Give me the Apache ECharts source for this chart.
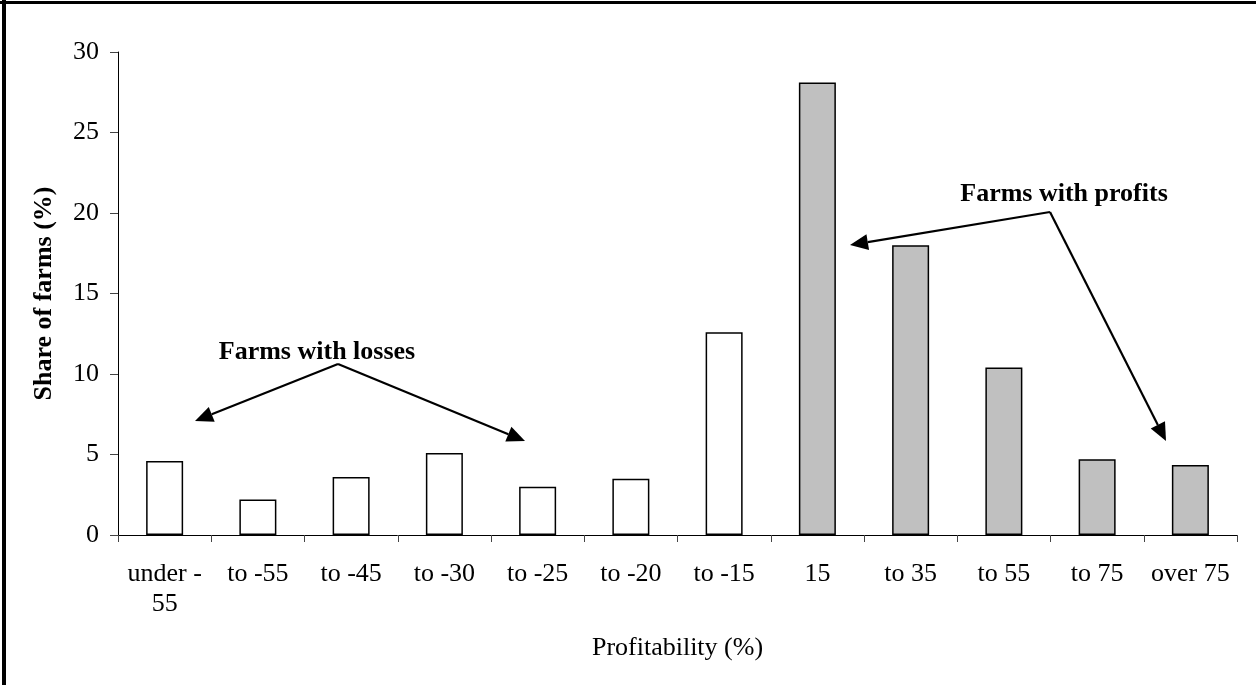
<!DOCTYPE html>
<html>
<head>
<meta charset="utf-8">
<script src="https://cdn.jsdelivr.net/npm/echarts@6/dist/echarts.min.js"></script>
<style>
html,body{margin:0;padding:0;background:#fff;}
#chart{width:1256px;height:685px;}
</style>
</head>
<body>
<div id="chart"></div>
<script>
// ---- data ----
const categories = ['under -\n55', 'to -55', 'to -45', 'to -30', 'to -25', 'to -20', 'to -15', '15', 'to 35', 'to 55', 'to 75', 'over 75'];
const shareOfFarms = [4.6, 2.2, 3.6, 5.1, 3.0, 3.5, 12.6, 28.1, 18.0, 10.4, 4.7, 4.35];
const profitGroup = ['loss', 'loss', 'loss', 'loss', 'loss', 'loss', 'loss', 'profit', 'profit', 'profit', 'profit', 'profit'];
const yTicks = { min: 0, max: 30, interval: 5 };
const lossLabel = 'Farms with losses';
const profitLabel = 'Farms with profits';

const FONT = '"Liberation Serif", "Times New Roman", serif';
const groupColor = { loss: '#ffffff', profit: '#c0c0c0' };

const chart = echarts.init(document.getElementById('chart'), null, { renderer: 'canvas' });

function arrow(x1, y1, x2, y2) {
  const dx = x2 - x1, dy = y2 - y1;
  const len = Math.sqrt(dx * dx + dy * dy);
  const ux = dx / len, uy = dy / len;
  const hl = 18, hw = 8;
  const bx = x2 - ux * hl, by = y2 - uy * hl;
  return [
    { type: 'line', shape: { x1: x1, y1: y1, x2: bx, y2: by }, style: { stroke: '#000', lineWidth: 2.2 }, z: 100 },
    { type: 'polygon', shape: { points: [[x2, y2], [bx - uy * hw, by + ux * hw], [bx + uy * hw, by - ux * hw]] }, style: { fill: '#000' }, z: 100 }
  ];
}

const graphics = [
  { type: 'rect', shape: { x: 2, y: 0, width: 4, height: 685 }, style: { fill: '#000' }, z: 100 },
  { type: 'rect', shape: { x: 0, y: 1, width: 1256, height: 3 }, style: { fill: '#000' }, z: 100 },
  { type: 'text', x: 317, y: 352, style: { text: lossLabel, font: 'bold 26px ' + FONT, fill: '#000', textAlign: 'center', textVerticalAlign: 'middle' }, z: 100 },
  { type: 'text', x: 1064, y: 194, style: { text: profitLabel, font: 'bold 26px ' + FONT, fill: '#000', textAlign: 'center', textVerticalAlign: 'middle' }, z: 100 }
].concat(
  arrow(338, 364, 195, 421),
  arrow(338, 364, 525, 441),
  arrow(1050, 212, 850, 245),
  arrow(1050, 212, 1166, 441)
);

const option = {
  backgroundColor: '#ffffff',
  animation: false,
  grid: { left: 118, right: 19, top: 52, bottom: 150, containLabel: false },
  xAxis: {
    type: 'category',
    data: categories,
    name: 'Profitability (%)',
    nameLocation: 'middle',
    nameGap: 100,
    nameTextStyle: { fontFamily: FONT, fontSize: 26, color: '#000' },
    axisLine: { show: true, lineStyle: { color: '#000', width: 1 } },
    axisTick: { show: true, inside: false, length: 7, lineStyle: { color: '#444' } },
    axisLabel: { fontFamily: FONT, fontSize: 26, color: '#000', margin: 24, lineHeight: 30, interval: 0 },
    splitLine: { show: false }
  },
  yAxis: {
    type: 'value',
    min: yTicks.min,
    max: yTicks.max,
    interval: yTicks.interval,
    name: 'Share of farms (%)',
    nameLocation: 'middle',
    nameGap: 61,
    nameTextStyle: { fontFamily: FONT, fontSize: 26, fontWeight: 'bold', color: '#000' },
    axisLine: { show: true, lineStyle: { color: '#000', width: 1 } },
    axisTick: { show: true, inside: false, length: 8, lineStyle: { color: '#444' } },
    axisLabel: { fontFamily: FONT, fontSize: 26, color: '#000', margin: 19 },
    splitLine: { show: false }
  },
  series: [{
    type: 'bar',
    barWidth: 37,
    data: shareOfFarms.map((v, i) => ({
      value: v,
      itemStyle: { color: groupColor[profitGroup[i]], borderColor: '#000', borderWidth: 1.5 }
    })),
    label: { show: false }
  }],
  graphic: graphics
};

chart.setOption(option);
</script>
</body>
</html>
